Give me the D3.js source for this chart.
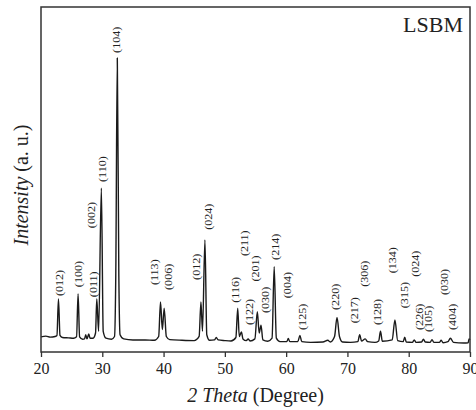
<!DOCTYPE html>
<html>
<head>
<meta charset="utf-8">
<script src="https://cdn.jsdelivr.net/npm/d3@7"></script>
<style>
  body { margin: 0; background: #fff; }
  text { font-family: "Liberation Serif", "DejaVu Serif", serif; fill: #222; }
</style>
</head>
<body>
<div id="block"></div>
<script>
// XRD pattern (2theta in degree, intensity in a.u.)
var twoTheta = [20, 20.8, 21.5, 22.3, 22.6, 22.85, 23.1, 23.5, 24.5, 25.3, 25.8, 26.05, 26.3, 26.8,
    27.1, 27.3, 27.5, 27.8, 28.0, 28.5, 28.9, 29.1, 29.4, 29.85, 30.15, 30.6, 31.5, 32.0, 32.2,
    32.45, 32.7, 32.9, 33.5, 35, 37, 38.5, 39.2, 39.5, 39.8, 40.1, 40.45, 41, 43, 45, 45.8, 46.1,
    46.35, 46.75, 47.05, 47.5, 48.3, 48.6, 48.9, 50, 51, 51.8, 52.1, 52.35, 52.7, 52.95, 53.5,
    53.8, 54.1, 54.9, 55.3, 55.6, 55.9, 56.2, 57, 57.7, 58.05, 58.4, 59, 60.1, 60.35, 60.6, 61.9,
    62.25, 62.55, 64, 66, 66.8, 67.2, 67.9, 68.3, 68.7, 69.2, 70.5, 71.7, 72.0, 72.3, 72.9, 73.3,
    74.5, 75.1, 75.4, 75.7, 77.3, 77.75, 78.2, 79.1, 79.35, 79.6, 80.6, 80.9, 81.2, 82.1, 82.4,
    82.7, 83.5, 83.8, 84.1, 85, 85.3, 85.6, 86.4, 86.8, 87.3, 89, 89.7, 89.85, 90];
var intensity = [4.4, 4.6, 4.3, 4.5, 4.8, 15.4, 4.8, 4.2, 4.1, 4.0, 4.4, 16.8, 4.4, 3.7,
    3.8, 5.0, 3.8, 5.2, 4.0, 4.0, 5.5, 15.4, 6.0, 47.5, 6.0, 4.0, 3.7, 4.5, 22,
    85.2, 22, 5.0, 3.8, 3.5, 3.5, 3.4, 4.5, 14.5, 6.5, 12.7, 4.5, 3.6, 3.4, 3.3, 4.5, 14.5,
    6.0, 32.5, 5.0, 3.4, 3.5, 4.2, 3.5, 3.3, 3.2, 4.2, 12.7, 4.5, 5.8, 3.8, 3.3,
    3.8, 3.2, 3.8, 11.7, 5.5, 7.8, 3.5, 3.1, 4.0, 24.7, 4.0, 3.0, 3.0, 3.9, 3.0, 3.0,
    4.8, 3.0, 2.8, 2.9, 3.4, 2.9, 4.5, 10, 4.5, 2.9, 2.8, 3.0, 5.0, 3.2, 3.8, 3.0,
    2.8, 3.2, 6.0, 3.1, 3.5, 9.3, 3.3, 3.0, 4.3, 2.9, 2.8, 3.5, 2.8, 2.9, 3.7,
    2.9, 2.8, 3.6, 2.8, 2.8, 3.4, 2.7, 3.0, 4.0, 2.8, 2.6, 2.7, 3.8, 3.5];

// peak labels: hkl, position and the level where the label starts
var hkl = ["(012)", "(100)", "(011)", "(002)", "(110)", "(104)", "(113)", "(006)", "(012)", "(024)",
    "(116)", "(211)", "(122)", "(201)", "(030)", "(214)", "(004)", "(125)", "(220)", "(217)",
    "(306)", "(128)", "(134)", "(315)", "(024)", "(226)", "(105)", "(030)", "(404)"];
var hklTheta = [22.99, 26.08, 28.65, 28.27, 30.11, 32.4, 38.6, 40.77, 45.4, 47.3,
    51.8, 53.23, 54.0, 55.07, 56.7, 58.34, 60.24, 62.69, 68.12, 71.11,
    72.74, 74.93, 77.37, 79.27, 81.17, 81.71, 83.3, 85.79, 87.16];
var hklLevel = [16.2, 18.8, 15.9, 35.9, 49.3, 86.7, 19.4, 18.0, 20.9, 35.4,
    14.3, 27.8, 7.8, 20.4, 11.3, 26.7, 15.6, 6.4, 12.2, 8.3,
    18.9, 7.8, 22.8, 12.7, 21.8, 6.4, 5.8, 16.5, 6.4];

var xTicks = [20, 30, 40, 50, 60, 70, 80, 90];

// dimensions
var svg_dx = 476, svg_dy = 410,
    margin = {top: 7, right: 6, bottom: 58, left: 41},
    chart_dx = svg_dx - margin.left - margin.right,
    chart_dy = svg_dy - margin.top - margin.bottom;

var xScale = d3.scaleLinear().domain([20, 90]).range([0, chart_dx]);
var yScale = d3.scaleLinear().domain([0, 100]).range([chart_dy, 0]);

var svg = d3.select("#block").append("svg")
    .attr("width", svg_dx)
    .attr("height", svg_dy);

var g = svg.append("g")
    .attr("transform", "translate(" + margin.left + "," + margin.top + ")");

// pattern
var pts = twoTheta.map(function (t, i) { return [t, intensity[i]]; });

var line = d3.line()
    .x(function (d) { return xScale(d[0]); })
    .y(function (d) { return yScale(d[1]); })
    .curve(d3.curveMonotoneX);

g.append("path")
    .datum(pts)
    .attr("fill", "none")
    .attr("stroke", "#1a1a1a")
    .attr("stroke-width", 1.4)
    .attr("stroke-linejoin", "round")
    .attr("d", line);

// hkl labels
g.selectAll(".hkl")
    .data(hkl)
    .enter()
    .append("text")
    .attr("class", "hkl")
    .attr("transform", function (d, i) {
        return "translate(" + xScale(hklTheta[i]) + "," + yScale(hklLevel[i]) + ") rotate(-90) scale(1.1,1)";
    })
    .attr("dominant-baseline", "central")
    .style("font-size", "11px")
    .text(function (d) { return d; });

// x axis
var xAxis = d3.axisBottom(xScale)
    .tickValues(xTicks)
    .tickSize(5)
    .tickPadding(6)
    .tickFormat(d3.format("d"));

var x_axis = g.append("g")
    .attr("transform", "translate(0," + chart_dy + ")")
    .call(xAxis);

x_axis.select(".domain").remove();
x_axis.selectAll("line").attr("stroke", "#333").attr("stroke-width", 1.3);
x_axis.selectAll("text")
    .style("font-size", "16px")
    .style("font-family", "Liberation Serif")
    .attr("fill", "#333");

// frame
g.append("rect")
    .attr("width", chart_dx)
    .attr("height", chart_dy)
    .attr("fill", "none")
    .attr("stroke", "#333")
    .attr("stroke-width", 1.5);

// titles
svg.append("text")
    .attr("x", margin.left + chart_dx / 2)
    .attr("y", 402)
    .attr("text-anchor", "middle")
    .style("font-size", "20px")
    .html("<tspan font-style='italic'>2 Theta</tspan> (Degree)");

svg.append("text")
    .attr("transform", "translate(28," + 185 + ") rotate(-90)")
    .attr("text-anchor", "middle")
    .style("font-size", "20px")
    .html("<tspan font-style='italic'>Intensity</tspan> (a. u.)");

svg.append("text")
    .attr("x", 463)
    .attr("y", 32)
    .attr("text-anchor", "end")
    .style("font-size", "22px")
    .text("LSBM");
</script>
</body>
</html>
